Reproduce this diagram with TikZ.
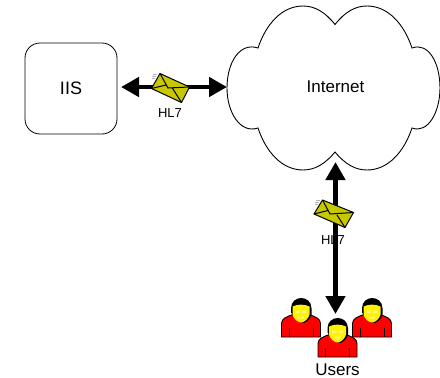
\documentclass[tikz,border=0pt]{standalone}
\usepackage{fontspec}
\setmainfont{Liberation Sans}
\usetikzlibrary{arrows.meta}
\definecolor{envcol}{RGB}{200,200,0}
\tikzset{
  lbl/.style={inner sep=0pt,font=\fontsize{17}{19}\selectfont},
  small/.style={inner sep=0pt,font=\fontsize{13}{15}\selectfont},
  biarrow/.style={line width=4.6pt,{Triangle[length=18pt,width=19pt]}-{Triangle[length=18pt,width=19pt]}},
  env/.style={fill=envcol,draw=black,line width=1pt,line join=round},
  crease/.style={draw=black,line width=1pt},
  ticks/.style={gray!60,line width=0.4pt},
  person/.pic={
    \path[fill=red,draw=black,line width=0.9pt,line join=round] (-19.5,15.5) -- (-19.5,2) .. controls (-19.5,-3) and (-14,-5) .. (-8,-7) -- (8,-7) .. controls (14,-5) and (19.5,-3) .. (19.5,2) -- (19.5,15.5) -- cycle;
    \draw[black,line width=0.6pt] (-12,6) -- (-12,15.5) (12,6) -- (12,15.5);
    \fill[black] (-10,-13) .. controls (-10,-27) and (10.5,-27) .. (10.5,-13) -- (10.5,-7) .. controls (9.5,-2) and (5,0.5) .. (3,1.5) -- (-3,0) -- (-10,-9) -- cycle;
    \path[fill=yellow] (-8.5,-15) .. controls (-3,-17.5) and (3,-17.5) .. (8.5,-15) -- (8.5,-7) .. controls (7.5,-2.5) and (3,1) .. (0,1) .. controls (-3,1) and (-7.5,-2.5) .. (-8.5,-7) -- cycle;
    \fill[white!50!yellow] (-5.5,-11) rectangle (-1,-8.5) (1,-11) rectangle (5.5,-8.5) (-3,-5) rectangle (3,-3);
  }
}
\begin{document}
\begin{tikzpicture}[x=1pt,y=-1pt]
\useasboundingbox (0,0) rectangle (440,378);
\fill[white] (0,0) rectangle (440,378);
% cloud
\draw[black,line width=0.9pt,fill=white] (335,24.5)
  .. controls (325,12) and (315,6) .. (303,6)
  .. controls (282,6) and (266,24) .. (258,48)
  .. controls (240,42) and (227,62) .. (227,88)
  .. controls (227,112) and (240,134) .. (258,128)
  .. controls (266,152) and (282,170) .. (303,170)
  .. controls (315,170) and (325,164) .. (335,152)
  .. controls (345,164) and (355,170) .. (367,170)
  .. controls (388,170) and (404,152) .. (412,128)
  .. controls (428,134) and (440,112) .. (440,88)
  .. controls (440,62) and (428,42) .. (412,48)
  .. controls (404,24) and (388,6) .. (367,6)
  .. controls (355,6) and (345,12) .. (335,24.5) -- cycle;
\node[lbl] (inet) at (335.5,87) {Internet};
% IIS
\node[draw=black,line width=0.8pt,rounded corners=15pt,minimum width=92pt,minimum height=91pt,inner sep=0pt,font=\fontsize{18}{20}\selectfont] (iis) at (71,88.5) {IIS};
\coordinate (cloudL) at (227,87);
\coordinate (iisR) at (121,87);
\coordinate (cloudB) at (335.5,162);
\coordinate (usersT) at (335.5,314);
% users
\pic at (301,321.5) {person};
\pic at (372,321.5) {person};
\pic at (337.5,341.5) {person};
\node[lbl] (users) at (337.5,369.5) {Users};
% arrows
\draw[biarrow] (iisR) -- (cloudL);
\draw[biarrow] (cloudB) -- (usersT);
% envelopes
\draw[ticks] (157,74) -- (153,74) (156,76) -- (152,76) (155,78) -- (151.5,78);
\path[env] (160,73.5) -- (189.5,87) -- (181.5,102.5) -- (151.5,88.5) -- cycle;
\draw[crease] (160,73.5) -- (168,88) -- (189.5,87) (151.5,88.5) -- (166,85) (172,87.5) -- (181.5,102.5);
\node[small] (hla) at (170,113) {HL7};
\node[small] (hlb) at (333,240) {HL7};
\draw[ticks] (320,200) -- (316,200) (319,202) -- (315,202) (318,204) -- (314.5,204);
\path[env] (322.5,200) -- (353.5,212.5) -- (345,227.5) -- (314,214) -- cycle;
\draw[crease] (322.5,200) -- (330,214) -- (353.5,212.5) (314,214) -- (328,210.5) (337,215) -- (345,227.5);
\end{tikzpicture}
\end{document}
